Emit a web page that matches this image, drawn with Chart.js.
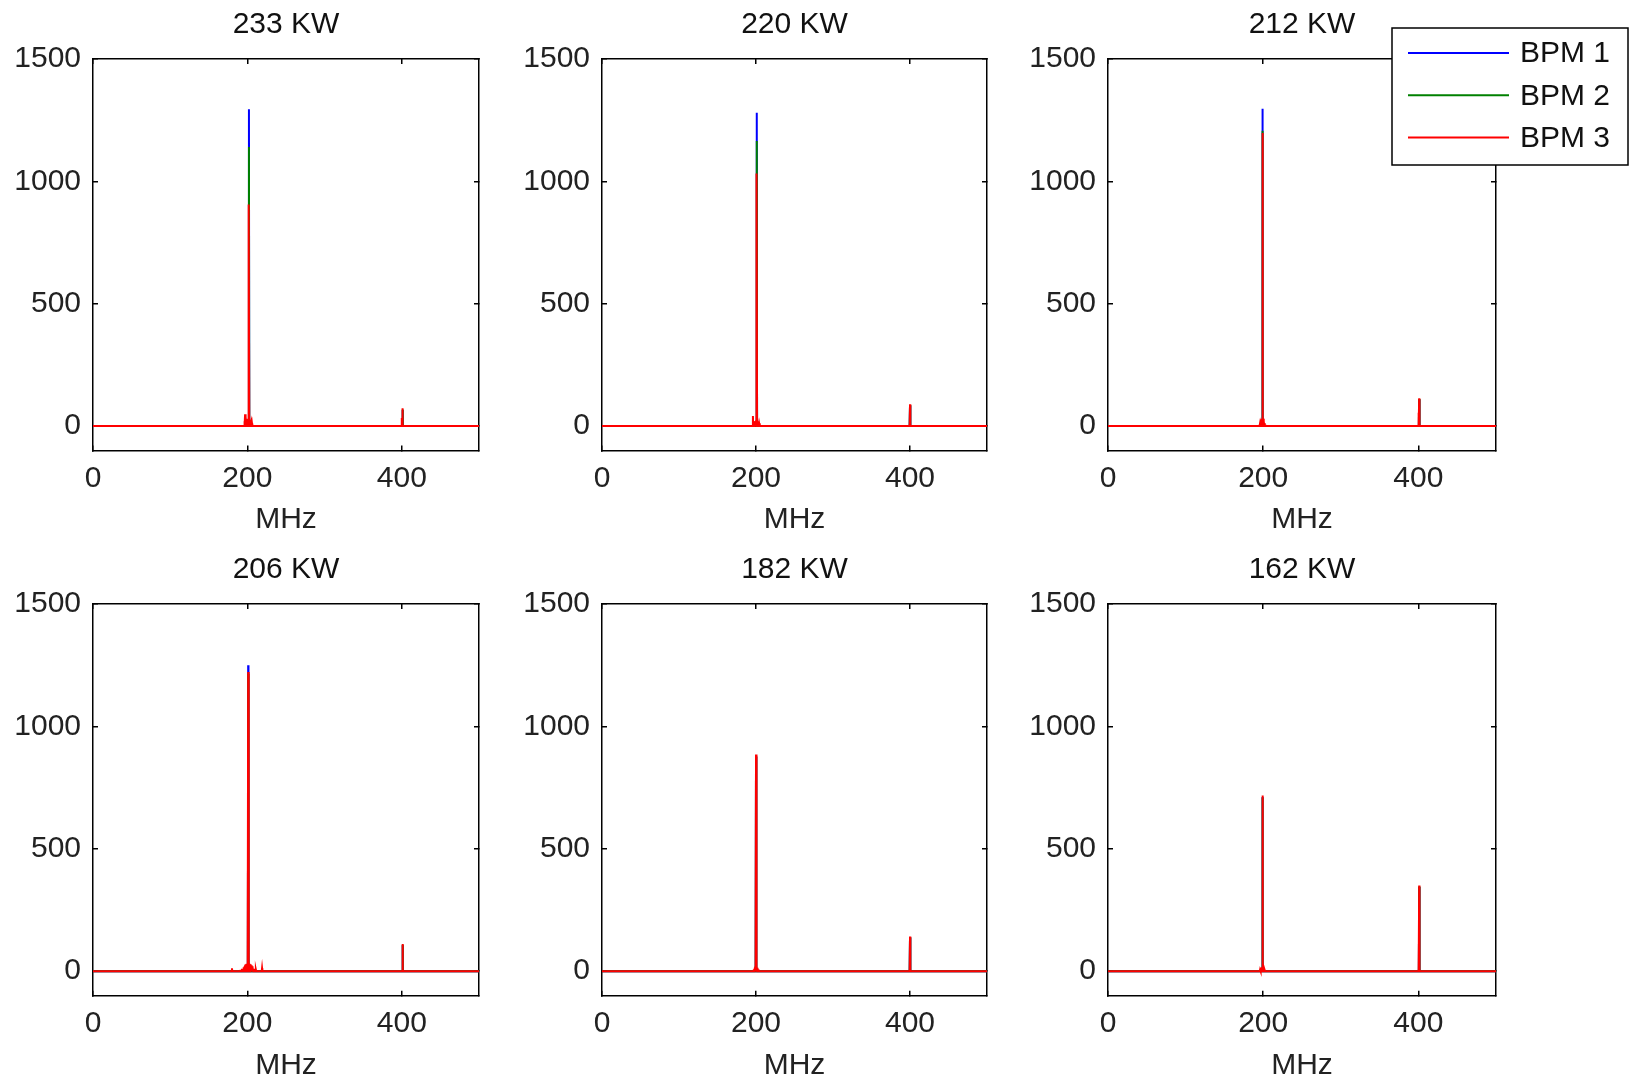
<!DOCTYPE html>
<html>
<head>
<meta charset="utf-8">
<script src="https://cdn.jsdelivr.net/npm/chart.js@4.4.0/dist/chart.umd.min.js"></script>
<style>
  html, body { margin: 0; padding: 0; background: #fff; overflow: hidden; }
  #wrap { position: relative; width: 1633px; height: 1080px; }
  canvas { position: absolute; }
</style>
</head>
<body>
<div id="wrap"></div>
<script>
// ---- data ----
const panelTitles = ["233 KW", "220 KW", "212 KW", "206 KW", "182 KW", "162 KW"];
const seriesNames = ["BPM 1", "BPM 2", "BPM 3"];
const xTicks = [0, 200, 400];
const yTicks = [0, 500, 1000, 1500];

// main line (~200 MHz) and harmonic (~400 MHz), one value per panel
const mainFreq = [202, 201, 199, 201, 200, 199];
const harmFreq = [401, 400, 401, 401, 400, 401];
const bpm1Main = [1295, 1280, 1297, 1250, 878, 712];
const bpm2Main = [1140, 1165, 1207, 1215, 876, 710];
const bpm3Main = [905, 1032, 1198, 1222, 885, 718];
const bpm1Harm = [66, 84, 108, 106, 138, 344];
const bpm2Harm = [68, 86, 110, 108, 139, 346];
const bpm3Harm = [73, 89, 113, 111, 142, 350];
const bpm3HarmShoulder = [33, 0, 54, 0, 0, 8];

// low side lobes of BPM 3 around the main line (offset in MHz)
const lobeOffsets = [-10, -8, -6, -5, -4, -3, -2, -1, 1, 2, 3, 4, 5, 6, 8, 10];
const bpm3Lobes = [
  [0, 0, 20, 48, 40, 30, 25, 28, 25, 20, 15, 10, 0, 0, 0, 0],
  [0, 0, 0, 41, 10, 18, 20, 22, 20, 18, 12, 8, 0, 0, 0, 0],
  [0, 0, 0, 0, 5, 12, 20, 30, 30, 20, 12, 5, 0, 0, 0, 0],
  [6, 10, 16, 20, 24, 28, 30, 32, 32, 30, 28, 24, 20, 16, 10, 6],
  [0, 0, 0, 0, 0, 8, 14, 19, 19, 14, 8, 0, 0, 0, 0, 0],
  [0, 0, 0, 0, 0, 6, 12, 16, 16, 12, 6, 0, 0, 0, 0, 0]
];
// isolated small lines of BPM 3
const bpm3MinorFreq = [[], [], [], [180, 219], [], []];
const bpm3MinorVal = [[], [], [], [12, 12], [], []];

// ---- style / layout ----
const colors = ["#0000ff", "#008000", "#ff0000"];
const fontFamily = "'Liberation Sans', Arial, Helvetica, sans-serif";
const cols = [
  { left: 0, width: 510, axisW: 93, padR: 31 },
  { left: 510, width: 500, axisW: 92, padR: 23 },
  { left: 1010, width: 623, axisW: 98, padR: 137 }
];
const rows = [
  { top: 0, height: 545, axisH: 94.5, titlePad: 7 },
  { top: 545, height: 535, axisH: 84.3, titlePad: -4 }
];

function spikePoints(list) {
  const pts = [{ x: 0, y: 0 }, { x: 500, y: 0 }];
  list.forEach(function (s) {
    if (s[1] > 0) {
      pts.push({ x: s[0] - 0.4, y: 0 }, { x: s[0], y: s[1] }, { x: s[0] + 0.4, y: 0 });
    }
  });
  pts.sort(function (a, b) { return a.x - b.x; });
  return pts;
}

function seriesData(p, s) {
  const list = [];
  if (s === 0) {
    list.push([mainFreq[p], bpm1Main[p]], [harmFreq[p], bpm1Harm[p]]);
  } else if (s === 1) {
    list.push([mainFreq[p], bpm2Main[p]], [harmFreq[p], bpm2Harm[p]]);
  } else {
    list.push([mainFreq[p], bpm3Main[p]], [harmFreq[p], bpm3Harm[p]]);
    list.push([harmFreq[p] - 1, bpm3HarmShoulder[p]]);
    lobeOffsets.forEach(function (o, i) {
      list.push([mainFreq[p] + o, bpm3Lobes[p][i]]);
    });
    bpm3MinorFreq[p].forEach(function (f, i) {
      list.push([f, bpm3MinorVal[p][i]]);
    });
  }
  return spikePoints(list);
}

const legendPlugin = {
  id: "boxLegend",
  afterDraw: function (chart) {
    const ctx = chart.ctx;
    ctx.save();
    ctx.fillStyle = "#fff";
    ctx.fillRect(382, 28, 236, 137);
    ctx.strokeStyle = "#000";
    ctx.lineWidth = 1.5;
    ctx.strokeRect(382, 28, 236, 137);
    chart.data.datasets.forEach(function (ds, i) {
      const y = 53 + i * 42.3;
      ctx.strokeStyle = ds.borderColor;
      ctx.lineWidth = 2;
      ctx.beginPath();
      ctx.moveTo(398, y);
      ctx.lineTo(499, y);
      ctx.stroke();
      ctx.fillStyle = "#111";
      ctx.font = "30px " + fontFamily;
      ctx.textBaseline = "middle";
      ctx.textAlign = "left";
      ctx.fillText(ds.label, 510, y + 1);
    });
    ctx.restore();
  }
};

const wrap = document.getElementById("wrap");
const tickFont = { family: fontFamily, size: 30 };
const plainNumber = function (v) { return String(v); };

for (let p = 0; p < 6; p++) {
  const col = cols[p % 3];
  const row = rows[Math.floor(p / 3)];
  const cv = document.createElement("canvas");
  cv.width = col.width;
  cv.height = row.height;
  cv.style.left = col.left + "px";
  cv.style.top = row.top + "px";
  cv.style.width = col.width + "px";
  cv.style.height = row.height + "px";
  wrap.appendChild(cv);

  const edgeGrid = { drawOnChartArea: false, tickLength: -5, color: "#000", lineWidth: 1.5 };
  const edgeBorder = { color: "#000", width: 1.5 };

  new Chart(cv, {
    type: "line",
    data: {
      datasets: seriesNames.map(function (name, s) {
        return {
          label: name,
          data: seriesData(p, s),
          borderColor: colors[s],
          backgroundColor: colors[s],
          borderWidth: 2,
          pointRadius: 0,
          fill: false,
          tension: 0,
          order: 3 - s
        };
      })
    },
    options: {
      responsive: false,
      animation: false,
      events: [],
      devicePixelRatio: 1,
      layout: { padding: { left: 0, right: col.padR, top: 0, bottom: 0 } },
      plugins: {
        legend: { display: false },
        tooltip: { enabled: false },
        title: {
          display: true,
          fullSize: false,
          text: panelTitles[p],
          color: "#111",
          font: { family: fontFamily, size: 30, weight: "normal" },
          padding: { top: 7, bottom: 16 }
        }
      },
      scales: {
        x: {
          type: "linear", position: "bottom", min: 0, max: 500,
          afterBuildTicks: function (s) { s.ticks = xTicks.map(function (v) { return { value: v }; }); },
          afterFit: function (s) { s.height = row.axisH; },
          grid: edgeGrid, border: edgeBorder,
          ticks: { padding: 15.5, color: "#222", font: tickFont, maxRotation: 0, callback: plainNumber },
          title: { display: true, text: "MHz", color: "#222", font: tickFont, padding: { top: 0, bottom: row.titlePad } }
        },
        x2: {
          type: "linear", position: "top", min: 0, max: 500,
          afterBuildTicks: function (s) { s.ticks = xTicks.map(function (v) { return { value: v }; }); },
          afterFit: function (s) { s.height = 0; },
          grid: edgeGrid, border: edgeBorder,
          ticks: { display: false }
        },
        y: {
          type: "linear", position: "left", min: -100, max: 1500,
          afterBuildTicks: function (s) { s.ticks = yTicks.map(function (v) { return { value: v }; }); },
          afterFit: function (s) { s.width = col.axisW; },
          grid: edgeGrid, border: edgeBorder,
          ticks: { padding: 17, color: "#222", font: tickFont, callback: plainNumber }
        },
        y2: {
          type: "linear", position: "right", min: -100, max: 1500,
          afterBuildTicks: function (s) { s.ticks = yTicks.map(function (v) { return { value: v }; }); },
          afterFit: function (s) { s.width = 0; },
          grid: edgeGrid, border: edgeBorder,
          ticks: { display: false }
        }
      }
    },
    plugins: p === 2 ? [legendPlugin] : []
  });
}
</script>
</body>
</html>
